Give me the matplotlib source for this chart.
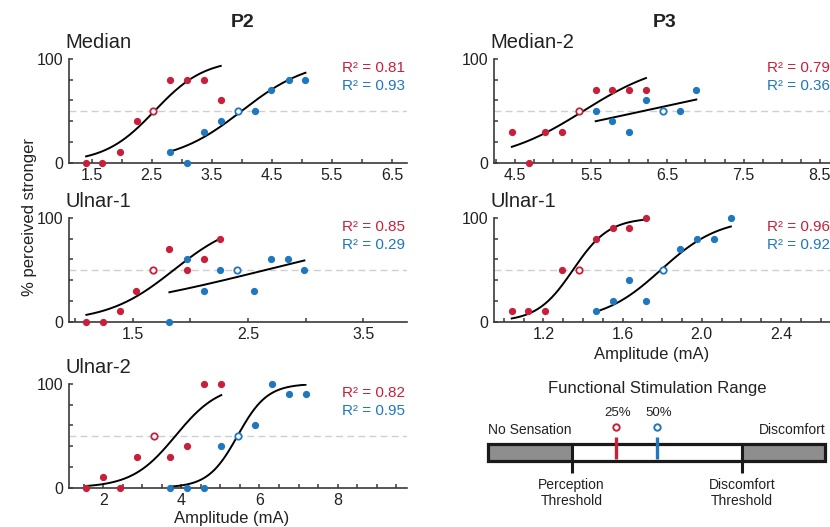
import numpy as np
import matplotlib
matplotlib.use("Agg")
import matplotlib.pyplot as plt
from matplotlib.patches import Rectangle

plt.rcParams["font.family"] = ["Liberation Sans", "DejaVu Sans"]

RED = "#C8203A"
BLUE = "#1F77C0"
AXIS_COLOR = "#3a3a3a"

W_PX, H_PX = 830, 527

# --- P2, Median ---
P2_MED_RED_AMP = [1.41, 1.68, 1.97, 2.25, 2.53, 2.81, 3.09, 3.37, 3.65]
P2_MED_RED_PCT = [0, 0, 10, 40, 50, 80, 80, 80, 60]
P2_MED_BLUE_AMP = [2.81, 3.09, 3.37, 3.65, 3.93, 4.22, 4.49, 4.78, 5.06]
P2_MED_BLUE_PCT = [10, 0, 30, 40, 50, 50, 70, 80, 80]
P2_MED_FIT = [(2.55, 2.4), (4.0, 1.77)]  # (midpoint mA, slope) red / blue
P2_MED_R2 = ["0.81", "0.93"]

# --- P2, Ulnar-1 ---
P2_UL1_RED_AMP = [1.10, 1.24, 1.39, 1.53, 1.68, 1.82, 1.97, 2.12, 2.26]
P2_UL1_RED_PCT = [0, 0, 10, 30, 50, 70, 50, 60, 80]
P2_UL1_BLUE_AMP = [1.82, 1.97, 2.12, 2.26, 2.41, 2.55, 2.70, 2.85, 2.99]
P2_UL1_BLUE_PCT = [0, 60, 30, 50, 50, 30, 60, 60, 50]
P2_UL1_FIT = [(1.86, 3.47), (2.66, 1.1)]
P2_UL1_R2 = ["0.85", "0.29"]

# --- P2, Ulnar-2 ---
P2_UL2_RED_AMP = [1.55, 1.98, 2.43, 2.86, 3.29, 3.71, 4.15, 4.59, 5.02]
P2_UL2_RED_PCT = [0, 10, 0, 30, 50, 30, 40, 100, 100]
P2_UL2_BLUE_AMP = [3.71, 4.15, 4.59, 5.02, 5.45, 5.89, 6.32, 6.76, 7.18]
P2_UL2_BLUE_PCT = [0, 0, 0, 40, 50, 60, 100, 90, 90]
P2_UL2_FIT = [(3.85, 1.79), (5.44, 2.64)]
P2_UL2_R2 = ["0.82", "0.95"]

# --- P3, Median-2 ---
P3_MED2_RED_AMP = [4.46, 4.68, 4.89, 5.12, 5.34, 5.56, 5.78, 6.00, 6.22]
P3_MED2_RED_PCT = [30, 0, 30, 30, 50, 70, 70, 70, 70]
P3_MED2_BLUE_AMP = [5.56, 5.78, 6.00, 6.22, 6.44, 6.66, 6.88]
P3_MED2_BLUE_PCT = [50, 40, 30, 60, 50, 50, 70]
P3_MED2_FIT = [(5.4, 1.82), (6.19, 0.644)]
P3_MED2_R2 = ["0.79", "0.36"]

# --- P3, Ulnar-1 ---
P3_UL1_RED_AMP = [1.04, 1.124, 1.21, 1.296, 1.38, 1.466, 1.55, 1.634, 1.72]
P3_UL1_RED_PCT = [10, 10, 10, 50, 50, 80, 90, 90, 100]
P3_UL1_BLUE_AMP = [1.464, 1.55, 1.634, 1.72, 1.806, 1.89, 1.975, 2.06, 2.147]
P3_UL1_BLUE_PCT = [10, 20, 40, 20, 50, 70, 80, 80, 100]
P3_UL1_FIT = [(1.35, 11.0), (1.794, 6.78)]
P3_UL1_R2 = ["0.96", "0.92"]

# the reference stimulus (open circle) is the 5th point of each series
REF_INDEX = 4

# schematic: positions along the range bar, in % of its length
PERCEPTION_THRESHOLD = 24.8
DISCOMFORT_THRESHOLD = 75.3
RANGE_MARKERS = [("25%", 38.0, RED), ("50%", 50.2, BLUE)]


def px_rect(left, top, right, bottom):
    return [left / W_PX, 1 - bottom / H_PX, (right - left) / W_PX, (bottom - top) / H_PX]


def logistic(x, mid, slope):
    return 100.0 / (1.0 + np.exp(-slope * (x - mid)))


def draw_panel(ax, name, red, blue, fits, r2, xlim, xticks, xlabels):
    ax.axhline(50, color="#cfcfcf", lw=1.0, ls=(0, (5, 3)), zorder=0)
    for (amp, pct), color, (mid, slope) in zip([red, blue], [RED, BLUE], fits):
        xs = np.linspace(amp[0], amp[-1], 200)
        ax.plot(xs, logistic(xs, mid, slope), color="black", lw=1.4, zorder=3)
        filled = [i for i in range(len(amp)) if i != REF_INDEX]
        ax.plot([amp[i] for i in filled], [pct[i] for i in filled], "o", ms=4.2,
                color=color, mec=color, zorder=4, clip_on=False)
        ax.plot(amp[REF_INDEX], pct[REF_INDEX], "o", ms=4.6, mfc="white", mec=color,
                mew=1.3, zorder=5, clip_on=False)

    ax.set_xlim(*xlim)
    ax.set_ylim(0, 100)
    ax.set_xticks(xticks)
    ax.set_xticklabels(xlabels)
    ax.set_yticks([0, 20, 40, 60, 80, 100])
    ax.set_yticklabels(["0", "", "", "", "", "100"])
    for side in ["top", "right"]:
        ax.spines[side].set_visible(False)
    for side in ["left", "bottom"]:
        ax.spines[side].set_color(AXIS_COLOR)
        ax.spines[side].set_linewidth(1.2)
    ax.tick_params(direction="in", length=3, width=1.1, color=AXIS_COLOR,
                   labelsize=11.5, pad=4, labelcolor="#222222")
    ax.patch.set_alpha(0)

    ax.annotate(name, xy=(0, 1), xycoords="axes fraction", xytext=(-4, 11),
                textcoords="offset pixels", ha="left", va="baseline", fontsize=14.5,
                color="#222222")
    for val, color, dy in zip(r2, [RED, BLUE], [-13, -31]):
        ax.annotate(f"R\u00b2 = {val}", xy=(1, 1), xycoords="axes fraction",
                    xytext=(-2, dy), textcoords="offset pixels", ha="right",
                    va="baseline", fontsize=11, color=color)


def ticks_with_labels(start, stop, step, labelled):
    ticks = list(np.round(np.arange(start, stop + step / 2, step), 3))
    labels = []
    for t in ticks:
        hit = [lab for lab in labelled if abs(float(lab) - t) < 1e-6]
        labels.append(hit[0] if hit else "")
    return ticks, labels


fig = plt.figure(figsize=(W_PX / 100, H_PX / 100), dpi=100)

LEFT_P2, LEFT_P3, AX_W = 69.3, 494.3, 337.7
ROWS = [(59.0, 162.7), (217.8, 321.8), (383.7, 487.7)]

ax1 = fig.add_axes(px_rect(LEFT_P2, ROWS[0][0], LEFT_P2 + AX_W, ROWS[0][1]))
t, lab = ticks_with_labels(1.5, 6.5, 0.5, ["1.5", "2.5", "3.5", "4.5", "5.5", "6.5"])
draw_panel(ax1, "Median", (P2_MED_RED_AMP, P2_MED_RED_PCT),
           (P2_MED_BLUE_AMP, P2_MED_BLUE_PCT), P2_MED_FIT, P2_MED_R2,
           (1.13, 6.75), t, lab)

ax2 = fig.add_axes(px_rect(LEFT_P2, ROWS[1][0], LEFT_P2 + AX_W, ROWS[1][1]))
t, lab = ticks_with_labels(1.0, 3.5, 0.5, ["1.5", "2.5", "3.5"])
draw_panel(ax2, "Ulnar-1", (P2_UL1_RED_AMP, P2_UL1_RED_PCT),
           (P2_UL1_BLUE_AMP, P2_UL1_BLUE_PCT), P2_UL1_FIT, P2_UL1_R2,
           (0.952, 3.88), t, lab)

ax3 = fig.add_axes(px_rect(LEFT_P2, ROWS[2][0], LEFT_P2 + AX_W, ROWS[2][1]))
t, lab = ticks_with_labels(1.5, 9.5, 0.5, ["2", "4", "6", "8"])
draw_panel(ax3, "Ulnar-2", (P2_UL2_RED_AMP, P2_UL2_RED_PCT),
           (P2_UL2_BLUE_AMP, P2_UL2_BLUE_PCT), P2_UL2_FIT, P2_UL2_R2,
           (1.126, 9.78), t, lab)

ax4 = fig.add_axes(px_rect(LEFT_P3, ROWS[0][0], LEFT_P3 + AX_W, ROWS[0][1]))
t, lab = ticks_with_labels(4.25, 8.5, 0.25, ["4.5", "5.5", "6.5", "7.5", "8.5"])
draw_panel(ax4, "Median-2", (P3_MED2_RED_AMP, P3_MED2_RED_PCT),
           (P3_MED2_BLUE_AMP, P3_MED2_BLUE_PCT), P3_MED2_FIT, P3_MED2_R2,
           (4.23, 8.66), t, lab)

ax5 = fig.add_axes(px_rect(LEFT_P3, ROWS[1][0], LEFT_P3 + AX_W, ROWS[1][1]))
t, lab = ticks_with_labels(1.0, 2.6, 0.1, ["1.2", "1.6", "2.0", "2.4"])
draw_panel(ax5, "Ulnar-1", (P3_UL1_RED_AMP, P3_UL1_RED_PCT),
           (P3_UL1_BLUE_AMP, P3_UL1_BLUE_PCT), P3_UL1_FIT, P3_UL1_R2,
           (0.952, 2.658), t, lab)

# headers and shared labels
fig.text(242.3 / W_PX, 1 - 26.7 / H_PX, "P2", ha="center", va="baseline",
         fontsize=14, fontweight="bold", color="#222222")
fig.text(665 / W_PX, 1 - 26.7 / H_PX, "P3", ha="center", va="baseline",
         fontsize=14, fontweight="bold", color="#222222")
fig.text(29.5 / W_PX, 1 - 216.7 / H_PX, "% perceived stronger", rotation=90,
         ha="center", va="center", fontsize=12, color="#222222")
fig.text(232 / W_PX, 1 - 518 / H_PX, "Amplitude (mA)", ha="center", va="center",
         fontsize=12, color="#222222")
fig.text(652 / W_PX, 1 - 354 / H_PX, "Amplitude (mA)", ha="center", va="center",
         fontsize=12, color="#222222")

# functional stimulation range schematic (x in % of bar, y in pixel rows)
bar_l, bar_r = 488.0, 825.0
scale = (bar_r - bar_l) / 100.0
axs = fig.add_axes(px_rect(470, 378, 830, 515))
axs.set_xlim((470 - bar_l) / scale, (830 - bar_l) / scale)
axs.set_ylim(515, 378)
axs.axis("off")

bar_top, bar_bot = 444.0, 460.7
axs.add_patch(Rectangle((0, bar_top), PERCEPTION_THRESHOLD, bar_bot - bar_top,
                        facecolor="#8e8e8e", edgecolor="none"))
axs.add_patch(Rectangle((DISCOMFORT_THRESHOLD, bar_top), 100 - DISCOMFORT_THRESHOLD,
                        bar_bot - bar_top, facecolor="#8e8e8e", edgecolor="none"))
axs.add_patch(Rectangle((0, bar_top), 100, bar_bot - bar_top, facecolor="none",
                        edgecolor="#1a1a1a", lw=2.3, zorder=3))
for thr in [PERCEPTION_THRESHOLD, DISCOMFORT_THRESHOLD]:
    axs.plot([thr, thr], [bar_top, 473], color="#1a1a1a", lw=2.2,
             solid_capstyle="butt", zorder=3)
for label, pos, color in RANGE_MARKERS:
    axs.plot([pos, pos], [436.7, 459], color=color, lw=2.4, solid_capstyle="butt",
             zorder=4)
    axs.plot(pos, 427.3, "o", ms=4.6, mfc="white", mec=color, mew=1.4, zorder=4)
    axs.text(pos + 0.5, 413.5, label, ha="center", va="center", fontsize=9.5,
             color="#222222")

axs.text((657.7 - bar_l) / scale, 389, "Functional Stimulation Range", ha="center",
         va="center", fontsize=12, color="#222222")
axs.text(0, 430, "No Sensation", ha="left", va="center", fontsize=10, color="#222222")
axs.text(100.3, 430, "Discomfort", ha="right", va="center", fontsize=10,
         color="#222222")
axs.text(PERCEPTION_THRESHOLD, 478, "Perception\nThreshold", ha="center", va="top",
         fontsize=10, linespacing=1.15, color="#222222")
axs.text(DISCOMFORT_THRESHOLD, 478, "Discomfort\nThreshold", ha="center", va="top",
         fontsize=10, linespacing=1.15, color="#222222")

fig.savefig("out.png", dpi=100)
